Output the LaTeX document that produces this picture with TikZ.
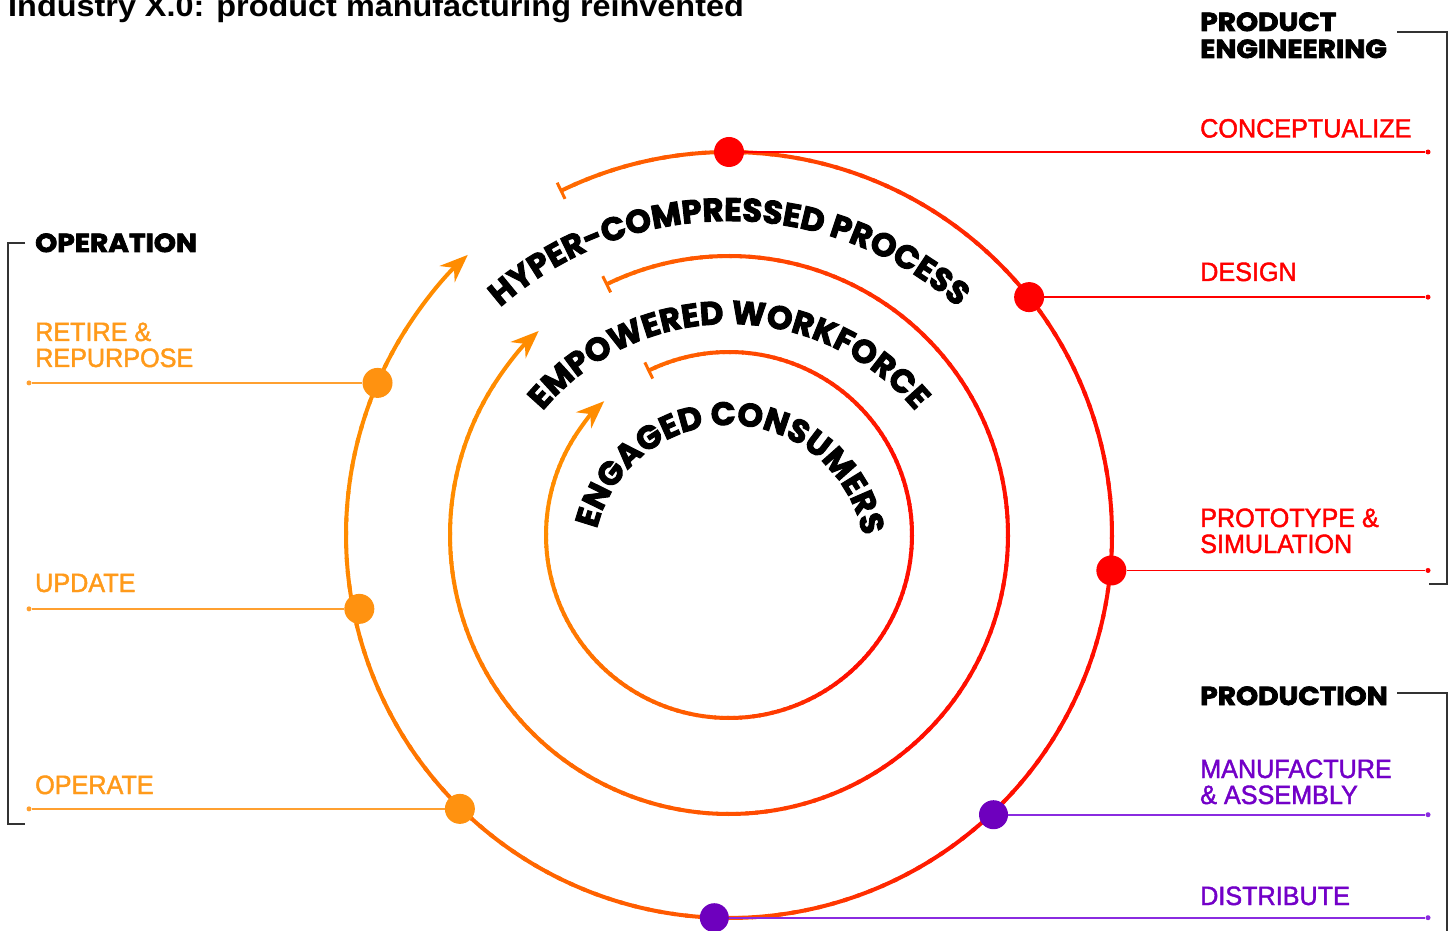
\documentclass[tikz,border=0pt]{standalone}
\usepackage{fontspec}
\setmainfont{Liberation Sans}
\newfontfamily\labfont{Liberation Sans}[FakeStretch=0.95, FakeBold=1.6]
\newfontfamily\titlefont{Liberation Sans}[FakeStretch=1.08]
\newfontfamily\headfont{Poppins}[FakeStretch=1.08, BoldFeatures={FakeBold=3}]
\newfontfamily\arcfont{Poppins}[BoldFeatures={FakeBold=3}]
\usetikzlibrary{arrows.meta,calc,decorations.text}

\definecolor{cRed}{HTML}{FF0000}
\definecolor{cOrange}{HTML}{FF9A1A}
\definecolor{cOrDot}{HTML}{FF9210}
\definecolor{cPurple}{HTML}{7300C8}
\definecolor{cPurDot}{HTML}{6E00BE}
\definecolor{cBracket}{HTML}{333333}
\definecolor{cOrLine}{HTML}{FFA030}
\definecolor{cPurLine}{HTML}{8A2BE0}
\definecolor{cStart}{rgb}{1,0.42,0}
\definecolor{cEnd}{rgb}{1,0.55,0}

\newcommand\arctext{\arcfont\bfseries\fontsize{32.5}{32.5}\selectfont}

\newcommand\gradring[1]{%
  \foreach \s in {0,2,...,326}{%
    \pgfmathsetmacro\g{\s<86 ? 0.42-0.36*\s/86 : (\s<166 ? 0.06 : (\s<206 ? 0.06+0.27*(\s-166)/40 : (\s<296 ? 0.33+0.22*(\s-206)/90 : 0.55)))}%
    \definecolor{segc}{rgb}{1,\g,0}%
    \draw[segc, ring] ($(C)+({116-\s}:#1)$) arc[start angle={116-\s}, end angle={116-\s-2.6}, radius=#1];%
  }%
  \draw[cStart, line width=3pt] ($(C)+({116}:{#1-9})$) -- ($(C)+({116}:{#1+9})$);%
  \draw[cEnd, ring, -{Stealth[length=28pt,width=22pt]}] ($(C)+(148:#1)$) arc[start angle=148, end angle=133, radius=#1];%
}

\begin{document}
\begin{tikzpicture}[x=1pt,y=1pt,
  ring/.style={line width=4pt},
  rdot/.style={circle, fill=cRed, inner sep=0pt, minimum size=30pt},
  odot/.style={circle, fill=cOrDot, inner sep=0pt, minimum size=30pt},
  pdot/.style={circle, fill=cPurDot, inner sep=0pt, minimum size=29pt},
  rend/.style={circle, fill=cRed, inner sep=0pt, minimum size=5pt},
  oend/.style={circle, fill=cOrLine, inner sep=0pt, minimum size=5pt},
  pend/.style={circle, fill=cPurLine, inner sep=0pt, minimum size=5pt},
  rline/.style={cRed, line width=1.6pt},
  oline/.style={cOrLine, line width=1.6pt},
  pline/.style={cPurLine, line width=1.6pt},
  lab/.style={anchor=base west, inner sep=0pt, font=\labfont\fontsize{26.5}{26.5}\selectfont},
  head/.style={anchor=base west, inner sep=0pt, font=\headfont\bfseries\fontsize{26}{26}\selectfont},
  bracket/.style={cBracket, line width=1.5pt},
]
\useasboundingbox (0,0) rectangle (1453,930);
\fill[white] (0,0) rectangle (1453,930);

\coordinate (C) at (729,395);
\coordinate (T) at (729,363);
\coordinate (T3) at (729,369);

% rings
\gradring{383}
\gradring{279}
\gradring{183}

% arc texts
\path[decorate, decoration={text along path, text align=center, text={|\arctext|HYPER-COMPRESSED PROCESS}}]
  ($(T)+(180:346)$) arc[start angle=180, end angle=0, radius=346];
\path[decorate, decoration={text along path, text align=center, text={|\arctext|EMPOWERED WORKFORCE}}]
  ($(T)+(180:243)$) arc[start angle=180, end angle=0, radius=243];
\path[decorate, decoration={text along path, text align=center, text={|\arctext|ENGAGED CONSUMERS}}]
  ($(T3)+(178.5:136)$) arc[start angle=178.5, end angle=-1.5, radius=136];

% title
\node[anchor=base west, inner sep=0pt, font=\titlefont\bfseries\fontsize{30}{30}\selectfont] (title) at (8,913) {Industry X.0: product manufacturing reinvented};

% end coordinates
\coordinate (xR) at (1428,0);
\coordinate (xL) at (29,0);

% dots
\node[rdot] (dCon) at ($(C)+(90:383)$) {};
\node[rdot] (dDes) at ($(C)+(38.4:383)$) {};
\node[rdot] (dPro) at ($(C)+(-5.3:384)$) {};
\node[pdot] (dMan) at ($(C)+(-46.6:385)$) {};
\node[pdot] (dDis) at ($(C)+(-92.2:383)$) {};
\node[odot] (dOpe) at ($(C)+(-134.5:384)$) {};
\node[odot] (dUpd) at ($(C)+(191.3:377)$) {};
\node[odot] (dRet) at ($(C)+(156.6:383)$) {};

\node[rend] (eCon) at (dCon -| xR) {};
\node[rend] (eDes) at (dDes -| xR) {};
\node[rend] (ePro) at (dPro -| xR) {};
\node[pend] (eMan) at (dMan -| xR) {};
\node[pend] (eDis) at (dDis -| xR) {};
\node[oend] (eOpe) at (dOpe -| xL) {};
\node[oend] (eUpd) at (dUpd -| xL) {};
\node[oend] (eRet) at (dRet -| xL) {};

\draw[rline] (dCon) -- (eCon);
\draw[rline] (dDes) -- (eDes);
\draw[rline] (dPro) -- (ePro);
\draw[pline] (dMan) -- (eMan);
\draw[pline] (dDis) -- (eDis);
\draw[oline] (dOpe) -- (eOpe);
\draw[oline] (dUpd) -- (eUpd);
\draw[oline] (dRet) -- (eRet);

% brackets
\draw[bracket] (1397,898) -- (1447,898) -- (1447,346) -- (1429,346);
\draw[bracket] (1397,237) -- (1447,237) -- (1447,-5);
\draw[bracket] (25,687) -- (8,687) -- (8,106) -- (25,106);

% headings
\node[head] (hPE1) at (1200,899) {PRODUCT};
\node[head] (hPE2) at (1200,872) {ENGINEERING};
\node[head] (hPR) at (1200,225) {PRODUCTION};
\node[head] (hOP) at (35,678) {OPERATION};

% labels
\node[lab, text=cRed] (lCon) at (1200,792.5) {CONCEPTUALIZE};
\node[lab, text=cRed] (lDes) at (1200,649) {DESIGN};
\node[lab, text=cRed] (lPro1) at (1200,403) {PROTOTYPE \&};
\node[lab, text=cRed] (lPro2) at (1200,377) {SIMULATION};
\node[lab, text=cPurple] (lMan1) at (1200,152) {MANUFACTURE};
\node[lab, text=cPurple] (lMan2) at (1200,126) {\& ASSEMBLY};
\node[lab, text=cPurple] (lDis) at (1200,25) {DISTRIBUTE};
\node[lab, text=cOrange] (lRet1) at (35,589) {RETIRE \&};
\node[lab, text=cOrange] (lRet2) at (35,563) {REPURPOSE};
\node[lab, text=cOrange] (lUpd) at (35,338) {UPDATE};
\node[lab, text=cOrange] (lOpe) at (35,136) {OPERATE};
\end{tikzpicture}
\end{document}
